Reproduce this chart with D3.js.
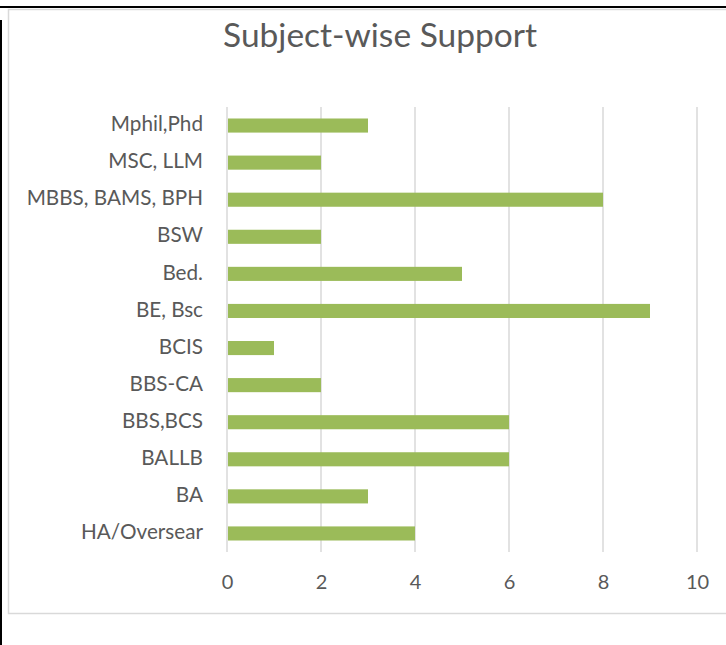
<!DOCTYPE html>
<html><head><meta charset="utf-8">
<script src="https://cdn.jsdelivr.net/npm/d3@7/dist/d3.min.js"></script>
<style>body{margin:0;background:#fff;}svg{display:block;}</style>
</head><body>
<script>
const categories = ["Mphil,Phd","MSC, LLM","MBBS, BAMS, BPH","BSW","Bed.","BE, Bsc","BCIS","BBS-CA","BBS,BCS","BALLB","BA","HA/Oversear"];
const values = [3,2,8,2,5,9,1,2,6,6,3,4];
const xTicks = [0,2,4,6,8,10];
const title = "Subject-wise Support";

const W = 726, H = 645;
const svg = d3.select("body").append("svg").attr("width", W).attr("height", H);
const font = "Lato, sans-serif";
const textCol = "#595959";

// outer frame lines
svg.append("rect").attr("x",8.5).attr("y",9.5).attr("width",730).attr("height",604).attr("fill","#fff").attr("stroke","#d9d9d9").attr("stroke-width",1.5);
svg.append("line").attr("x1",0).attr("x2",W).attr("y1",7).attr("y2",7).attr("stroke","#000").attr("stroke-width",2);
svg.append("line").attr("x1",1).attr("x2",1).attr("y1",20).attr("y2",H).attr("stroke","#000").attr("stroke-width",2);

const x = d3.scaleLinear().domain([0,10]).range([227,697]);
const y = d3.scaleBand().domain(categories).range([107,552]).paddingInner(0.62).paddingOuter(0.31);

// gridlines
svg.append("g").selectAll("line").data(xTicks).join("line")
  .attr("x1",d=>x(d)).attr("x2",d=>x(d)).attr("y1",107).attr("y2",552)
  .attr("stroke","#d9d9d9").attr("stroke-width",1.5);

// bars
svg.append("g").selectAll("rect").data(values).join("rect")
  .attr("x",x(0)+1).attr("y",(d,i)=>y(categories[i]))
  .attr("width",d=>x(d)-x(0)-1).attr("height",y.bandwidth())
  .attr("fill","#9bbb59");

// y labels
const yAxis = d3.axisLeft(y).tickSize(0).tickPadding(0);
const gy = svg.append("g").attr("transform","translate(203,-1)").call(yAxis);
gy.select(".domain").remove();
gy.selectAll("text").attr("fill",textCol).style("font-family",font).style("font-size","20.7px");

// x labels
const xAxis = d3.axisBottom(x).tickValues(xTicks).tickSize(0).tickPadding(0);
const gx = svg.append("g").attr("transform","translate(0,575)").call(xAxis);
gx.select(".domain").remove();
gx.selectAll("text").attr("fill",textCol).style("font-family",font).style("font-size","20px");

// title
svg.append("text").attr("x",380).attr("y",47).attr("text-anchor","middle")
  .attr("fill",textCol).style("font-family",font).style("font-size","33.5px").text(title);
</script>
</body></html>
